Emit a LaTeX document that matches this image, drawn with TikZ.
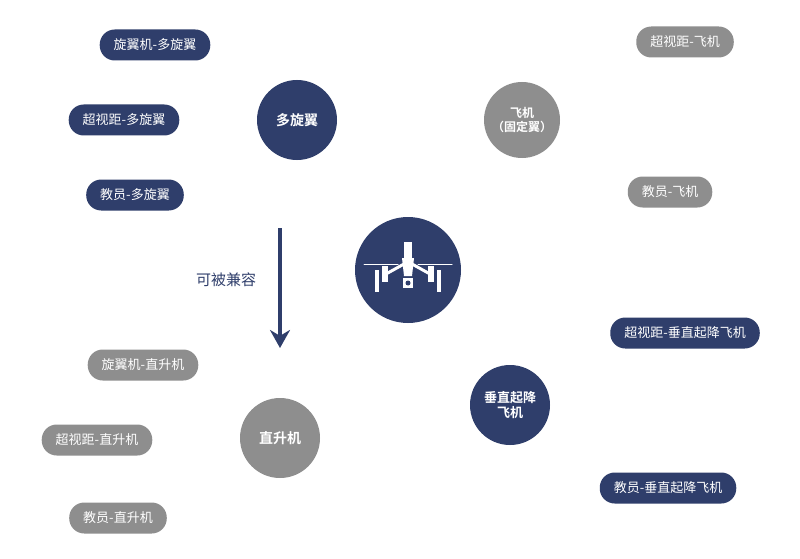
\documentclass[tikz,border=0pt]{standalone}
\usepackage{fontspec}
\setmainfont{Noto Sans CJK SC}
\newfontfamily\cjkb{Noto Sans CJK SC Bold}
\usetikzlibrary{arrows.meta,backgrounds}
\definecolor{navy}{HTML}{2F3E6B}
\definecolor{grayc}{HTML}{8E8E8E}
\tikzset{
 pill/.style={rounded corners=15pt,minimum height=31pt,text=white,font=\fontsize{13}{15}\selectfont,inner xsep=14pt},
 npill/.style={pill,fill=navy},
 gpill/.style={pill,fill=grayc},
 hub/.style={circle,minimum size=80pt,text=white,font=\cjkb\fontsize{14}{16}\selectfont,align=center,inner sep=0pt},
 spoke/.style={line width=8pt,grayc},
 nline/.style={line width=2.5pt,navy},
 gline/.style={line width=2.5pt,grayc},
 wline/.style={white,line width=2pt,line cap=round}
}
\begin{document}
\begin{tikzpicture}[x=1pt,y=-1pt]
\useasboundingbox (0,0) rectangle (800,559);
\fill[white] (0,0) rectangle (800,559);
% hubs
\node[circle,fill=navy,minimum size=106pt] (c) at (408,270) {};
\node[hub,fill=navy] (a) at (297,120) {多旋翼};
\node[hub,fill=grayc,minimum size=76pt,font=\cjkb\fontsize{12}{14}\selectfont] (b) at (522,120) {飞机\\（固定翼）};
\node[hub,fill=grayc] (d) at (280,438) {直升机};
\node[hub,fill=navy,font=\cjkb\fontsize{13}{15}\selectfont] (e) at (510,405) {垂直起降\\飞机};
% pills
\node[npill] (a1) at (155,45) {旋翼机-多旋翼};
\node[npill] (a2) at (124,120) {超视距-多旋翼};
\node[npill] (a3) at (135,195) {教员-多旋翼};
\node[gpill] (b1) at (685,42) {超视距-飞机};
\node[gpill] (b2) at (670,192) {教员-飞机};
\node[gpill] (d1) at (143,365) {旋翼机-直升机};
\node[gpill] (d2) at (97,440) {超视距-直升机};
\node[gpill] (d3) at (118,518) {教员-直升机};
\node[npill] (e1) at (685,333) {超视距-垂直起降飞机};
\node[npill] (e2) at (668,488) {教员-垂直起降飞机};
\coordinate (av) at (222,120);
\coordinate (bv) at (598,120);
\coordinate (dv) at (208,440);
\coordinate (ev) at (570,405);
\begin{scope}[on background layer]
\draw[spoke] (c.center) -- (a.center);
\draw[spoke] (c.center) -- (b.center);
\draw[spoke] (c.center) -- (d.center);
\draw[spoke] (c.center) -- (e.center);
\draw[nline] (a1.east) -| (av) |- (a3.east);
\draw[nline] (a2.east) -- (a.center);
\draw[gline] (b1.west) -| (bv) |- (b2.west);
\draw[gline] (b.center) -- (bv);
\draw[gline] (d1.east) -| (dv) |- (d3.east);
\draw[gline] (d2.east) -- (d.center);
\draw[nline] (e1.west) -| (ev) |- (e2.west);
\draw[nline] (e.center) -- (ev);
\end{scope}
% drone icon
\begin{scope}[shift={(c.center)}]
\fill[white] (-4,-28) rectangle (4,-12);
\fill[white] (-6,-12) -- (6,-12) -- (4,6) -- (-4,6) -- cycle;
\draw[wline,line width=3pt] (-4,-6) -- (-22,4);
\draw[wline,line width=3pt] (4,-6) -- (22,4);
\fill[white] (-26,-4) rectangle (-20,12);
\fill[white] (20,-4) rectangle (26,12);
\fill[white] (-33,0) rectangle (-29,22);
\fill[white] (29,0) rectangle (33,22);
\draw[wline,line width=1pt] (-44,-6) -- (-10,-6);
\draw[wline,line width=1pt] (10,-6) -- (44,-6);
\fill[white] (-5,8) rectangle (5,18);
\fill[navy] (0,13) circle (2.5);
\end{scope}
% arrow
\node[font=\fontsize{15}{17}\selectfont,text=navy] (lbl) at (226,280) {可被兼容};
\coordinate (ar1) at (280,228);
\coordinate (ar2) at (280,348);
\draw[navy,line width=4pt,-{Stealth[length=18pt,width=20pt]}] (ar1) -- (ar2);
\end{tikzpicture}
\end{document}
